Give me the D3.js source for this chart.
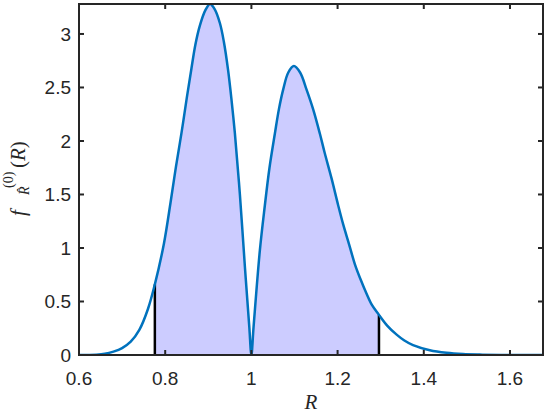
<!DOCTYPE html>
<html>
<head>
<meta charset="utf-8">
<script src="https://cdn.jsdelivr.net/npm/d3@7"></script>
<style>
  html, body { margin: 0; padding: 0; background: #fff; }
  svg { display: block; }
</style>
</head>
<body>
<script>
// ---- data ----
const rValues = [0.60, 0.64, 0.66, 0.68, 0.70, 0.72, 0.74, 0.76, 0.776, 0.797, 0.8126, 0.825, 0.838, 0.85, 0.861,
  0.87, 0.8806, 0.893, 0.904, 0.915, 0.927, 0.936, 0.946, 0.954, 0.9617, 0.9733, 0.985, 0.995, 1.0, 1.005,
  1.0197, 1.031, 1.042, 1.0545, 1.064, 1.0737, 1.0856, 1.0986, 1.113, 1.128, 1.143, 1.1588, 1.17, 1.186, 1.2013,
  1.213, 1.227, 1.24, 1.253, 1.267, 1.28, 1.296, 1.315, 1.337, 1.355, 1.375, 1.414, 1.4526, 1.491, 1.53, 1.58, 1.6766];
const fValues = [0.000, 0.003, 0.011, 0.032, 0.065, 0.125, 0.235, 0.43, 0.66, 1.04, 1.43, 1.76, 2.08, 2.40, 2.68,
  2.90, 3.08, 3.22, 3.28, 3.23, 3.10, 2.93, 2.66, 2.38, 2.07, 1.50, 0.82, 0.27, 0.0, 0.26,
  0.98, 1.39, 1.75, 2.07, 2.30, 2.48, 2.64, 2.70, 2.64, 2.48, 2.30, 2.07, 1.89, 1.65, 1.40,
  1.22, 1.03, 0.85, 0.71, 0.575, 0.465, 0.375, 0.275, 0.19, 0.135, 0.092, 0.045, 0.021, 0.009, 0.004, 0.001, 0.0];
const shadeBounds = [0.776, 1.296];
const xDomain = [0.6, 1.6766];
const yDomain = [0, 3.28];
const xTicks = [0.6, 0.8, 1, 1.2, 1.4, 1.6];
const xTickLabels = ["0.6", "0.8", "1", "1.2", "1.4", "1.6"];
const yTicks = [0, 0.5, 1, 1.5, 2, 2.5, 3];
const yTickLabels = ["0", "0.5", "1", "1.5", "2", "2.5", "3"];

const W = 547, H = 414;
const L = 79, R = 543, T = 4, B = 355;
const axisColor = "#262626";
const lineColor = "#0072BD";
const fillColor = "#CCCCFF";
const tickFont = "'Liberation Sans', Arial, Helvetica, sans-serif";
const mathFont = "'Liberation Serif', 'Times New Roman', serif";

const data = rValues.map((r, i) => ({ r, f: fValues[i] }));

const x = d3.scaleLinear().domain(xDomain).range([L, R]);
const y = d3.scaleLinear().domain(yDomain).range([B, T]);
const curve = d3.curveCatmullRom.alpha(0.5);

const svg = d3.select("body").append("svg").attr("width", W).attr("height", H);

svg.append("defs").append("clipPath").attr("id", "plotclip")
  .append("rect").attr("x", L).attr("y", T).attr("width", R - L).attr("height", B - T);

const plot = svg.append("g").attr("clip-path", "url(#plotclip)");

const shaded = data.filter(d => d.r >= shadeBounds[0] - 1e-9 && d.r <= shadeBounds[1] + 1e-9);

plot.append("path")
  .datum(shaded)
  .attr("fill", fillColor)
  .attr("stroke", "none")
  .attr("d", d3.area().x(d => x(d.r)).y0(y(0)).y1(d => y(d.f)).curve(curve));

shadeBounds.forEach(b => {
  const p = data.find(d => Math.abs(d.r - b) < 1e-9);
  plot.append("line")
    .attr("x1", x(b)).attr("x2", x(b))
    .attr("y1", y(0)).attr("y2", y(p.f))
    .attr("stroke", "#000").attr("stroke-width", 2.5);
});

plot.append("path")
  .datum(data)
  .attr("fill", "none")
  .attr("stroke", lineColor)
  .attr("stroke-width", 2.5)
  .attr("stroke-linejoin", "round")
  .attr("d", d3.line().x(d => x(d.r)).y(d => y(d.f)).curve(curve));

// ---- axes (box with inward ticks) ----
const ax = svg.append("g");
const tickLen = 5;
ax.append("rect").attr("x", L).attr("y", T).attr("width", R - L).attr("height", B - T)
  .attr("fill", "none").attr("stroke", axisColor).attr("stroke-width", 2);

xTicks.forEach((t, i) => {
  const px = x(t);
  ax.append("line").attr("x1", px).attr("x2", px).attr("y1", B).attr("y2", B - tickLen)
    .attr("stroke", axisColor).attr("stroke-width", 2);
  ax.append("line").attr("x1", px).attr("x2", px).attr("y1", T).attr("y2", T + tickLen)
    .attr("stroke", axisColor).attr("stroke-width", 2);
  ax.append("text").attr("x", px).attr("y", 385)
    .attr("text-anchor", "middle")
    .attr("font-family", tickFont).attr("font-size", 19).attr("fill", axisColor)
    .text(xTickLabels[i]);
});

yTicks.forEach((t, i) => {
  const py = y(t);
  ax.append("line").attr("x1", L).attr("x2", L + tickLen).attr("y1", py).attr("y2", py)
    .attr("stroke", axisColor).attr("stroke-width", 2);
  ax.append("line").attr("x1", R).attr("x2", R - tickLen).attr("y1", py).attr("y2", py)
    .attr("stroke", axisColor).attr("stroke-width", 2);
  ax.append("text").attr("x", 71).attr("y", py + 7)
    .attr("text-anchor", "end")
    .attr("font-family", tickFont).attr("font-size", 19).attr("fill", axisColor)
    .text(yTickLabels[i]);
});

// x label
svg.append("text").attr("x", (L + R) / 2).attr("y", 409)
  .attr("text-anchor", "middle")
  .attr("font-family", mathFont).attr("font-style", "italic").attr("font-size", 21)
  .attr("fill", axisColor).text("R");

// y label: f^{(0)}_{\hat R}(R)
const yl = svg.append("g").attr("transform", "translate(25,176) rotate(-90)")
  .attr("font-family", mathFont).attr("fill", axisColor);
yl.append("text").attr("x", -40).attr("y", 0).attr("font-size", 21).attr("font-style", "italic").text("f");
yl.append("text").attr("x", -12).attr("y", -12).attr("font-size", 14).text("(0)");
yl.append("text").attr("x", -19).attr("y", 4).attr("font-size", 14).attr("font-style", "italic").text("R\u0302");
const paren = yl.append("text").attr("x", 8).attr("y", 0).attr("font-size", 21);
paren.append("tspan").text("(");
paren.append("tspan").attr("font-style", "italic").text("R");
paren.append("tspan").text(")");
</script>
</body>
</html>
